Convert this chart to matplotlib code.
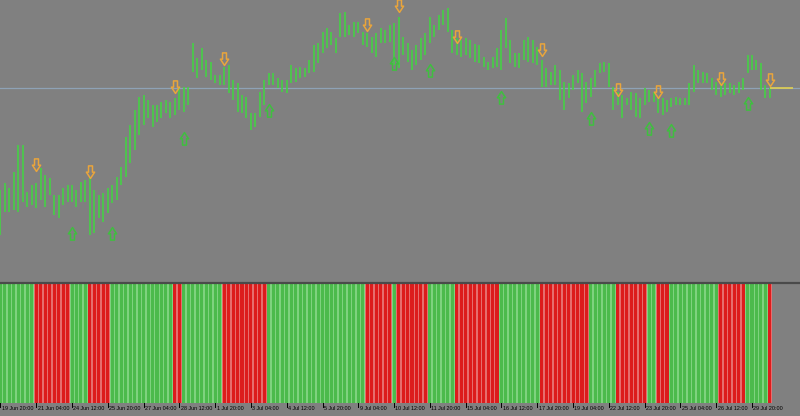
import matplotlib
matplotlib.use("Agg")
import matplotlib.pyplot as plt
from matplotlib.path import Path

# 4H bars, 19 Jun 20:00 -> 30 Jul
highs = [1.3110, 1.3117, 1.3112, 1.3128, 1.3155, 1.3155, 1.3108, 1.3115, 1.3117, 1.3132,
         1.3125, 1.3122, 1.3105, 1.3105, 1.3112, 1.3115, 1.3115, 1.3110, 1.3118, 1.3120,
         1.3122, 1.3110, 1.3105, 1.3107, 1.3112, 1.3115, 1.3123, 1.3133, 1.3163, 1.3175,
         1.3190, 1.3203, 1.3205, 1.3200, 1.3195, 1.3195, 1.3198, 1.3200, 1.3198, 1.3202,
         1.3212, 1.3213, 1.3213, 1.3257, 1.3242, 1.3252, 1.3240, 1.3238, 1.3225, 1.3225,
         1.3233, 1.3235, 1.3220, 1.3217, 1.3205, 1.3203, 1.3187, 1.3187, 1.3208, 1.3220,
         1.3227, 1.3227, 1.3222, 1.3220, 1.3220, 1.3235, 1.3232, 1.3233, 1.3232, 1.3240,
         1.3255, 1.3257, 1.3268, 1.3272, 1.3268, 1.3262, 1.3287, 1.3288, 1.3275, 1.3278,
         1.3278, 1.3268, 1.3267, 1.3263, 1.3267, 1.3272, 1.3270, 1.3275, 1.3277, 1.3283,
         1.3263, 1.3257, 1.3250, 1.3255, 1.3262, 1.3267, 1.3283, 1.3275, 1.3285, 1.3290,
         1.3292, 1.3270, 1.3262, 1.3260, 1.3262, 1.3260, 1.3256, 1.3255, 1.3243, 1.3238,
         1.3243, 1.3252, 1.3270, 1.3282, 1.3260, 1.3247, 1.3247, 1.3260, 1.3263, 1.3260,
         1.3253, 1.3240, 1.3232, 1.3228, 1.3235, 1.3230, 1.3218, 1.3217, 1.3225, 1.3230,
         1.3227, 1.3218, 1.3222, 1.3230, 1.3237, 1.3238, 1.3237, 1.3213, 1.3208, 1.3205,
         1.3202, 1.3208, 1.3207, 1.3202, 1.3212, 1.3210, 1.3208, 1.3203, 1.3202, 1.3200,
         1.3202, 1.3203, 1.3202, 1.3202, 1.3217, 1.3235, 1.3230, 1.3228, 1.3227, 1.3222,
         1.3218, 1.3217, 1.3217, 1.3217, 1.3215, 1.3218, 1.3222, 1.3245, 1.3245, 1.3240,
         1.3237, 1.3215, 1.3212]
lows = [1.3065, 1.3088, 1.3088, 1.3090, 1.3088, 1.3098, 1.3093, 1.3095, 1.3092, 1.3100,
        1.3093, 1.3105, 1.3085, 1.3082, 1.3095, 1.3098, 1.3098, 1.3093, 1.3098, 1.3098,
        1.3065, 1.3067, 1.3082, 1.3078, 1.3087, 1.3097, 1.3100, 1.3115, 1.3123, 1.3137,
        1.3150, 1.3165, 1.3175, 1.3182, 1.3173, 1.3178, 1.3182, 1.3187, 1.3182, 1.3185,
        1.3190, 1.3188, 1.3195, 1.3228, 1.3222, 1.3230, 1.3223, 1.3220, 1.3217, 1.3215,
        1.3215, 1.3207, 1.3200, 1.3188, 1.3187, 1.3182, 1.3170, 1.3173, 1.3183, 1.3195,
        1.3215, 1.3215, 1.3212, 1.3208, 1.3207, 1.3217, 1.3218, 1.3222, 1.3223, 1.3227,
        1.3228, 1.3237, 1.3247, 1.3252, 1.3255, 1.3247, 1.3263, 1.3263, 1.3265, 1.3263,
        1.3267, 1.3255, 1.3253, 1.3247, 1.3243, 1.3257, 1.3257, 1.3258, 1.3235, 1.3232,
        1.3245, 1.3238, 1.3230, 1.3235, 1.3240, 1.3245, 1.3257, 1.3263, 1.3270, 1.3275,
        1.3268, 1.3247, 1.3245, 1.3243, 1.3245, 1.3242, 1.3238, 1.3237, 1.3233, 1.3230,
        1.3232, 1.3233, 1.3230, 1.3252, 1.3237, 1.3233, 1.3232, 1.3240, 1.3238, 1.3237,
        1.3235, 1.3213, 1.3213, 1.3215, 1.3215, 1.3200, 1.3190, 1.3202, 1.3210, 1.3217,
        1.3188, 1.3197, 1.3203, 1.3213, 1.3227, 1.3228, 1.3213, 1.3190, 1.3195, 1.3182,
        1.3195, 1.3190, 1.3183, 1.3182, 1.3195, 1.3198, 1.3198, 1.3187, 1.3185, 1.3188,
        1.3193, 1.3195, 1.3195, 1.3195, 1.3195, 1.3208, 1.3217, 1.3217, 1.3217, 1.3210,
        1.3205, 1.3203, 1.3205, 1.3207, 1.3205, 1.3207, 1.3210, 1.3227, 1.3230, 1.3230,
        1.3210, 1.3202, 1.3202]

# signal arrows: bar index and price
sell_bars = [8, 20, 39, 50, 82, 89, 102, 121, 138, 147, 161, 172]
sell_prices = [1.3135, 1.3128, 1.3213, 1.3241, 1.3275, 1.3294, 1.3263, 1.3250,
               1.3210, 1.3208, 1.3221, 1.3220]
buy_bars = [16, 25, 41, 60, 88, 96, 112, 132, 145, 150, 167]
buy_prices = [1.3067, 1.3067, 1.3162, 1.3190, 1.3237, 1.3230, 1.3203, 1.3182,
              1.3172, 1.3170, 1.3197]

bid = 1.3212

tick_labels = ["19 Jun 20:00", "21 Jun 04:00", "24 Jun 12:00", "25 Jun 20:00",
               "27 Jun 04:00", "28 Jun 12:00", "1 Jul 20:00", "3 Jul 04:00",
               "4 Jul 12:00", "5 Jul 20:00", "9 Jul 04:00", "10 Jul 12:00",
               "11 Jul 20:00", "15 Jul 04:00", "16 Jul 12:00", "17 Jul 20:00",
               "19 Jul 04:00", "22 Jul 12:00", "23 Jul 20:00", "25 Jul 04:00",
               "26 Jul 12:00", "29 Jul 20:00"]
bars_per_label = 8

BG = "#808080"
BAR = "#46d046"
ORANGE = "#e9a53c"
UP_GREEN = "#3fbf3f"

n = len(highs)
x = list(range(n))
xmax = 800 / 4.476

# hollow arrow marker
down_arrow = Path([(-0.3, 1.0), (0.3, 1.0), (0.3, 0.05), (0.62, 0.05), (0.0, -0.9),
                   (-0.62, 0.05), (-0.3, 0.05), (-0.3, 1.0)],
                  [Path.MOVETO] + [Path.LINETO] * 6 + [Path.CLOSEPOLY])
up_arrow = Path([(vx, -vy) for vx, vy in down_arrow.vertices], down_arrow.codes)

fig = plt.figure(figsize=(8, 4.16), dpi=100, facecolor=BG)

ax = fig.add_axes([0, 134 / 416, 1, 282 / 416], facecolor=BG)
ax.axhline(bid, color="#8ea2b6", lw=0.9)
ax.vlines(x, lows, highs, color=BAR, lw=1.2)
ax.hlines(bid, n - 1, n + 4.2, color="#e2d050", lw=1.2)
ax.plot(sell_bars, sell_prices, ls="none", marker=down_arrow, ms=9.5,
        mfc="none", mec=ORANGE, mew=1.1)
ax.plot(buy_bars, buy_prices, ls="none", marker=up_arrow, ms=9.5,
        mfc="none", mec=UP_GREEN, mew=1.1)
ax.set_xlim(-0.1, xmax)
ax.set_ylim(1.3018, 1.3300)
ax.axis("off")

# trend histogram: red after a sell arrow until the next buy arrow
trend = []
state = 1
for i in x:
    if i in sell_bars:
        state = -1
    elif i in buy_bars:
        state = 1
    trend.append(state)
main_cols = ["#4cba4c" if t > 0 else "#dc1c1c" for t in trend]
gap_cols = ["#7fd27f" if t > 0 else "#e66e6e" for t in trend]

ax2 = fig.add_axes([0, 13 / 416, 1, 119 / 416], facecolor=BG)
ax2.bar(x, [1] * n, width=1.0, color=gap_cols, linewidth=0)
ax2.bar(x, [1] * n, width=0.68, color=main_cols, linewidth=0)
ax2.set_xlim(-0.1, xmax)
ax2.set_ylim(0, 1)
ax2.axis("off")

# panel separator
fig.add_artist(plt.Line2D([0, 1], [(416 - 283) / 416] * 2, color="#4a4a4a", lw=1.6))

for k, lab in enumerate(tick_labels):
    t = k * bars_per_label
    ax2.plot([t, t], [0, -0.035], color="black", lw=0.7, clip_on=False)
    ax2.text(t + 0.3, -0.022, lab, ha="left", va="top", fontsize=3.9,
             family="Liberation Sans", color="black", clip_on=False)

fig.savefig("out.png", dpi=100, facecolor=BG)
